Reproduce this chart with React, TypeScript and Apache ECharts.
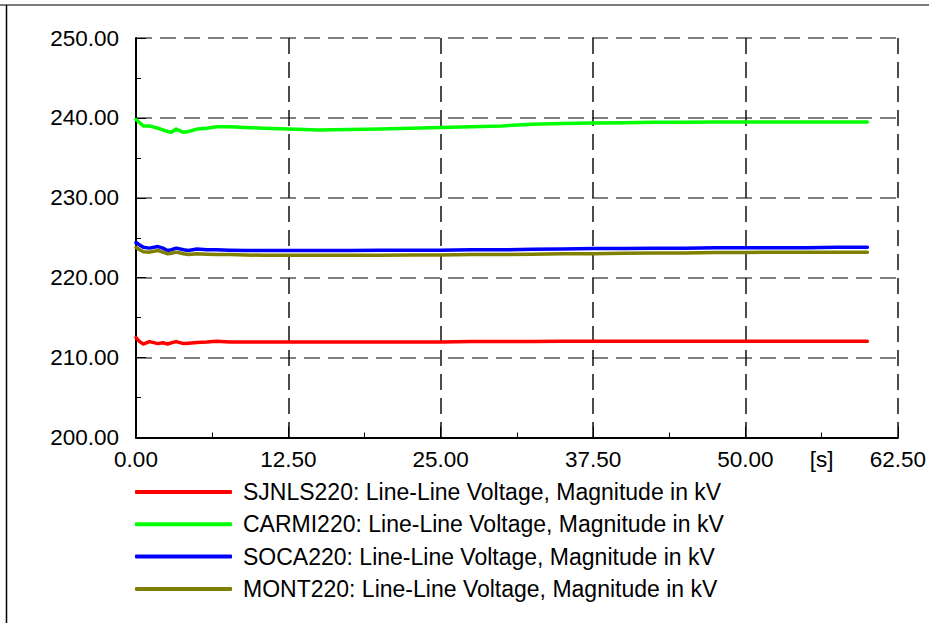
import React, { useEffect, useRef } from "react";
import * as echarts from "echarts";

const TIME = [0, 0.3, 0.6, 1.1, 1.8, 2.2, 2.6, 2.9, 3.3, 3.9, 4.3, 5.0, 5.8, 6.6, 7.7, 9, 10.5, 12.5, 15, 17.5, 20, 22.5, 25, 27.5, 30, 32.5, 35, 37.5, 40, 42.5, 45, 47.5, 50, 52.5, 55, 57.5, 60];

const SJNLS220 = [212.5, 212.0, 211.7, 212.0, 211.75, 211.85, 211.7, 211.85, 212.0, 211.75, 211.8, 211.9, 211.95, 212.05, 211.95, 211.95, 211.95, 211.95, 211.95, 211.95, 211.95, 211.95, 211.95, 212.0, 212.0, 212.0, 212.05, 212.05, 212.05, 212.05, 212.05, 212.05, 212.05, 212.05, 212.05, 212.05, 212.05];
const CARMI220 = [239.8, 239.4, 239.0, 239.0, 238.7, 238.5, 238.3, 238.2, 238.6, 238.2, 238.3, 238.6, 238.7, 238.9, 238.9, 238.8, 238.7, 238.6, 238.5, 238.55, 238.6, 238.7, 238.8, 238.9, 239.0, 239.2, 239.3, 239.35, 239.4, 239.45, 239.45, 239.5, 239.5, 239.5, 239.5, 239.5, 239.5];
const SOCA220 = [224.4, 224.1, 223.8, 223.7, 223.9, 223.7, 223.4, 223.5, 223.7, 223.5, 223.4, 223.6, 223.5, 223.5, 223.45, 223.4, 223.4, 223.4, 223.4, 223.4, 223.45, 223.45, 223.45, 223.5, 223.5, 223.55, 223.6, 223.65, 223.65, 223.7, 223.7, 223.75, 223.75, 223.75, 223.75, 223.8, 223.8];
const MONT220 = [223.8, 223.5, 223.25, 223.2, 223.4, 223.2, 223.0, 223.05, 223.2, 223.0, 222.9, 223.0, 222.95, 222.9, 222.9, 222.85, 222.8, 222.8, 222.8, 222.8, 222.8, 222.85, 222.85, 222.9, 222.9, 222.95, 223.0, 223.0, 223.05, 223.1, 223.1, 223.15, 223.15, 223.2, 223.2, 223.2, 223.2];

const SERIES_NAMES = [
  "SJNLS220: Line-Line Voltage, Magnitude in kV",
  "CARMI220: Line-Line Voltage, Magnitude in kV",
  "SOCA220: Line-Line Voltage, Magnitude in kV",
  "MONT220: Line-Line Voltage, Magnitude in kV",
];
const SERIES_VALUES = [SJNLS220, CARMI220, SOCA220, MONT220];
const SERIES_COLORS = ["#ff0000", "#00ff00", "#0000ff", "#808000"];

const X_UNIT = "[s]";
const X_UNIT_AT = 56.25;

const FONT = "'Liberation Sans', Arial, sans-serif";

export default function App() {
  const ref = useRef<HTMLDivElement>(null);

  useEffect(() => {
    if (!ref.current) return;
    const chart = echarts.init(ref.current, undefined, { renderer: "svg" });

    const series = SERIES_NAMES.map((name, si) => ({
      name,
      type: "line",
      data: TIME.map((t, i) => [t, SERIES_VALUES[si][i]]),
      showSymbol: false,
      symbol: "none",
      lineStyle: { color: SERIES_COLORS[si], width: 3.5, cap: "round", join: "round" },
      itemStyle: { color: SERIES_COLORS[si] },
      z: 3,
    }));

    const option: any = {
      animation: false,
      backgroundColor: "#ffffff",
      textStyle: { fontFamily: FONT },
      grid: { left: 136, right: 30, top: 38, bottom: 185.5, containLabel: false },
      xAxis: {
        type: "value",
        min: 0,
        max: 62.5,
        interval: 12.5,
        axisLine: { show: true, onZero: false, lineStyle: { color: "#000", width: 2 } },
        axisTick: { show: true, inside: true, length: 11, lineStyle: { color: "#000", width: 1 } },
        minorTick: { show: true, splitNumber: 2, length: 5, lineStyle: { color: "#000", width: 1 } },
        axisLabel: {
          color: "#000",
          fontFamily: FONT,
          fontSize: 22.5,
          margin: 10,
          formatter: (v: number) => v.toFixed(2),
        },
        splitLine: { show: true, lineStyle: { color: "#111", width: 1.5, type: [16, 8] } },
      },
      yAxis: {
        type: "value",
        min: 200,
        max: 250,
        interval: 10,
        axisLine: { show: true, onZero: false, lineStyle: { color: "#000", width: 2 } },
        axisTick: { show: true, inside: true, length: 10, lineStyle: { color: "#000", width: 1 } },
        minorTick: { show: true, splitNumber: 2, length: 5, lineStyle: { color: "#000", width: 1 } },
        axisLabel: {
          color: "#000",
          fontFamily: FONT,
          fontSize: 22.5,
          margin: 17,
          formatter: (v: number) => v.toFixed(2),
        },
        splitLine: { show: true, lineStyle: { color: "#808080", width: 2, type: [16, 8] } },
      },
      legend: {
        show: true,
        orient: "vertical",
        left: 135,
        top: 480,
        padding: 0,
        itemWidth: 97,
        itemHeight: 4,
        itemGap: 8.3,
        icon: "roundRect",
        selectedMode: false,
        data: SERIES_NAMES,
        textStyle: {
          color: "#000",
          fontFamily: FONT,
          fontSize: 23,
          lineHeight: 24,
          padding: [0, 0, 0, 6],
        },
      },
      series,
      graphic: [],
    };

    chart.setOption(option);

    const p = chart.convertToPixel({ gridIndex: 0 }, [X_UNIT_AT, 200]) as number[];
    chart.setOption({
      graphic: [
        {
          type: "line",
          shape: { x1: 0, y1: 5, x2: 929, y2: 5 },
          style: { stroke: "#7a7a7a", lineWidth: 2 },
          silent: true,
        },
        {
          type: "line",
          shape: { x1: 6.5, y1: 5, x2: 6.5, y2: 623 },
          style: { stroke: "#000", lineWidth: 1.5 },
          silent: true,
        },
        {
          type: "text",
          x: p[0],
          y: p[1] + 10,
          style: {
            text: X_UNIT,
            fill: "#000",
            font: `22.5px ${FONT}`,
            textAlign: "center",
            textVerticalAlign: "top",
          },
          silent: true,
        },
      ],
    });

    return () => chart.dispose();
  }, []);

  return (
    <div
      ref={ref}
      style={{ position: "fixed", left: 0, top: 0, width: 929, height: 623, background: "#fff" }}
    />
  );
}
